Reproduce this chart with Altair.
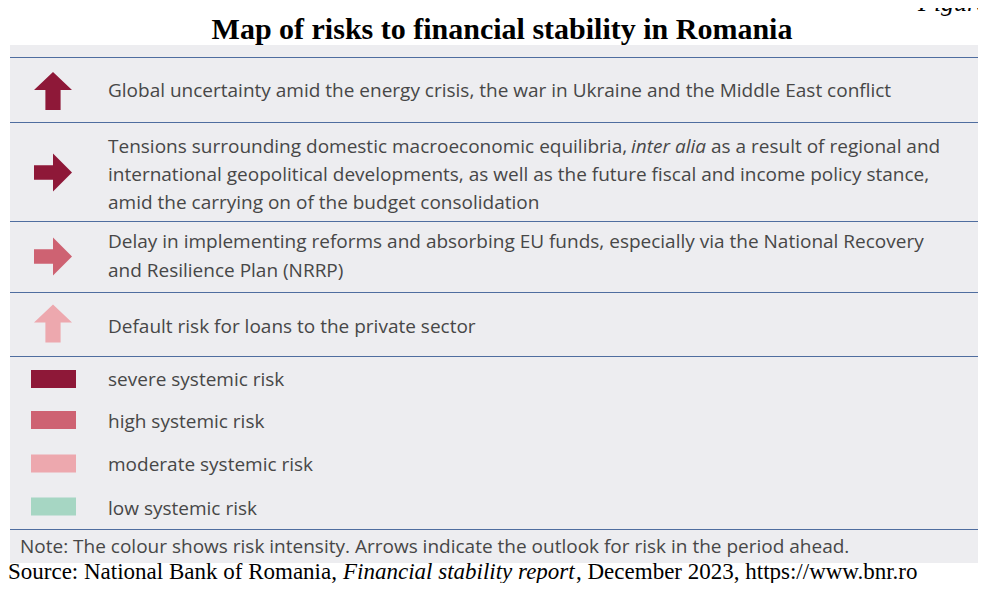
import altair as alt
import pandas as pd

# ---------------- data ----------------
title = "Map of risks to financial stability in Romania"
corner_label = "Figure"

risk_lines = [
    ["Global uncertainty amid the energy crisis, the war in Ukraine and the Middle East conflict"],
    ["Tensions surrounding domestic macroeconomic equilibria, |inter alia| as a result of regional and",
     "international geopolitical developments, as well as the future fiscal and income policy stance,",
     "amid the carrying on of the budget consolidation"],
    ["Delay in implementing reforms and absorbing EU funds, especially via the National Recovery",
     "and Resilience Plan (NRRP)"],
    ["Default risk for loans to the private sector"],
]
risk_levels = ["severe", "severe", "high", "moderate"]
risk_outlook = ["up", "right", "right", "up"]

legend_levels = ["severe", "high", "moderate", "low"]
legend_labels = ["severe systemic risk", "high systemic risk",
                 "moderate systemic risk", "low systemic risk"]
level_colors = ["#8E1838", "#CE6272", "#EDA8AE", "#A6D6C3"]

note_text = "Note: The colour shows risk intensity. Arrows indicate the outlook for risk in the period ahead."
source_parts = ["Source: National Bank of Romania, ", "Financial stability report",
                ", December 2023, https://www.bnr.ro"]

# ---------------- layout (page pixel coordinates) ----------------
W, H = 970, 575
X0, Y0 = 8, 8
xs = alt.Scale(domain=[X0, X0 + W], range=[0, W], nice=False, zero=False)
ys = alt.Scale(domain=[Y0, Y0 + H], range=[0, H], nice=False, zero=False)

panel = pd.DataFrame([{"x": 10, "x2": 990, "y": 45, "y2": 563}])
rule_y = [57.5, 122.5, 221.5, 292.5, 356.5, 529.5]
arrow_cy = [91, 172.5, 256.5, 323.5]
arrow_cx = 53
row_baselines = [[97], [153, 181, 209], [248, 276.5], [333]]
legend_cy = [379, 420, 463.5, 506.5]
legend_baselines = [385.5, 427.5, 471, 515]
text_x = 108
inline_x = [108, 631, 711]
source_x = [8, 343, 576]

ROW_FONT = "Open Sans"
ROW_SIZE = 19
TEXT_COLOR = "#474747"

path_up = "M0,-1 L1,-0.05 L0.4,-0.05 L0.4,1 L-0.4,1 L-0.4,-0.05 L-1,-0.05 Z"
path_right = "M1,0 L0,1 L0,0.38 L-1,0.38 L-1,-0.38 L0,-0.38 L0,-1 Z"

# ---------------- tables ----------------
texts = []
for r, lines in enumerate(risk_lines):
    for li, line in enumerate(lines):
        y = row_baselines[r][li]
        if "|" in line:
            parts = line.split("|")
            for k, p in enumerate(parts):
                texts.append({"x": inline_x[k], "y": y, "t": p.strip() if k > 0 else p,
                              "style": "italic" if k == 1 else "normal"})
        else:
            texts.append({"x": text_x, "y": y, "t": line, "style": "normal"})
for lab, y in zip(legend_labels, legend_baselines):
    texts.append({"x": text_x, "y": y, "t": lab, "style": "normal"})
texts.append({"x": 20, "y": 553, "t": note_text, "style": "normal"})
texts_df = pd.DataFrame(texts)

arrows_df = pd.DataFrame({"x": [arrow_cx] * 4, "y": arrow_cy,
                          "level": risk_levels, "outlook": risk_outlook})
legend_df = pd.DataFrame({"level": legend_levels, "x": 31, "x2": 76,
                          "y": [c - 9 for c in legend_cy], "y2": [c + 9 for c in legend_cy]})
rules_df = pd.DataFrame({"y": rule_y, "x": 10, "x2": 990})
source_df = pd.DataFrame({"x": source_x, "y": 579, "t": source_parts,
                          "style": ["normal", "italic", "normal"]})
title_df = pd.DataFrame([{"x": 502, "y": 39, "t": title}])
corner_df = pd.DataFrame([{"x": 918, "y": 11, "t": corner_label}])

color_scale = alt.Scale(domain=legend_levels, range=level_colors)


def base_x(f="x"):
    return alt.X(f"{f}:Q", scale=xs, axis=None)


def base_y(f="y"):
    return alt.Y(f"{f}:Q", scale=ys, axis=None)


panel_l = alt.Chart(panel).mark_rect(color="#EDEDF0").encode(
    x=base_x(), x2="x2", y=base_y(), y2="y2")
rules_l = alt.Chart(rules_df).mark_rule(color="#4F6D9F", strokeWidth=1.2).encode(
    x=base_x(), x2="x2", y=base_y())
arrows_l = alt.Chart(arrows_df).mark_point(filled=True, size=1444, opacity=1, strokeWidth=0).encode(
    x=base_x(), y=base_y(),
    shape=alt.Shape("outlook:N", scale=alt.Scale(domain=["up", "right"], range=[path_up, path_right]), legend=None),
    color=alt.Color("level:N", scale=color_scale, legend=None))
legend_l = alt.Chart(legend_df).mark_rect().encode(
    x=base_x(), x2="x2", y=base_y(), y2="y2",
    color=alt.Color("level:N", scale=color_scale, legend=None))


def text_layer(df, style, **kw):
    return alt.Chart(df).transform_filter(alt.datum.style == style).mark_text(
        align="left", baseline="alphabetic", fontStyle=style, **kw).encode(
        x=base_x(), y=base_y(), text="t:N")


text_n = text_layer(texts_df, "normal", font=ROW_FONT, fontSize=ROW_SIZE, color=TEXT_COLOR)
text_i = text_layer(texts_df, "italic", font=ROW_FONT, fontSize=ROW_SIZE, color=TEXT_COLOR)
source_n = text_layer(source_df, "normal", font="Liberation Serif", fontSize=23, color="#000000")
source_i = text_layer(source_df, "italic", font="Liberation Serif", fontSize=23, color="#000000")
title_l = alt.Chart(title_df).mark_text(align="center", baseline="alphabetic", font="Liberation Serif",
                                        fontSize=30, fontWeight="bold", color="#000000").encode(
    x=base_x(), y=base_y(), text="t:N")
corner_l = alt.Chart(corner_df).mark_text(align="left", baseline="alphabetic", font="Liberation Serif",
                                          fontSize=26, fontStyle="italic", color="#000000").encode(
    x=base_x(), y=base_y(), text="t:N")

chart = alt.layer(panel_l, rules_l, arrows_l, legend_l, text_n, text_i, source_n, source_i,
                  title_l, corner_l).properties(
    width=W, height=H, padding=0,
    autosize=alt.AutoSizeParams(type="none"),
    background="#FFFFFF",
).configure_view(stroke=None)

chart.save("out.html", embed_options={"renderer": "svg", "actions": False})
